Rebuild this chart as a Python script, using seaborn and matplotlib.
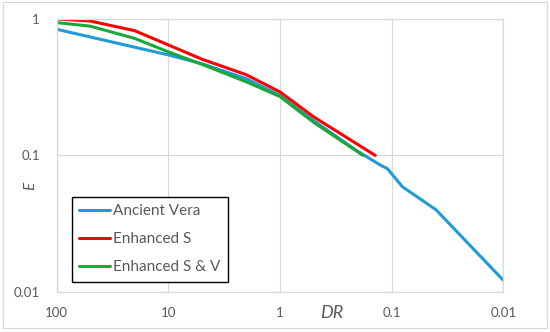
import matplotlib
matplotlib.use('Agg')
import matplotlib.pyplot as plt
import matplotlib.ticker as mticker
from matplotlib.patches import Rectangle
import seaborn as sns
import pandas as pd

# Series values (log-log, DR axis reversed)
vera_dr = [100, 10, 5, 2, 1, 0.5, 0.2, 0.126, 0.109, 0.08, 0.04, 0.01]
vera_e = [0.84, 0.545, 0.47, 0.365, 0.275, 0.18, 0.107, 0.085, 0.08, 0.059, 0.04, 0.0122]

enh_s_dr = [100, 50, 20, 10, 5, 2, 1, 0.5, 0.14]
enh_s_e = [1.0, 0.965, 0.82, 0.645, 0.507, 0.39, 0.292, 0.192, 0.1]

enh_sv_dr = [100, 50, 20, 10, 5, 2, 1, 0.5, 0.18]
enh_sv_e = [0.94, 0.885, 0.72, 0.574, 0.465, 0.346, 0.27, 0.175, 0.1]

series_names = ['Ancient Vera', 'Enhanced S', 'Enhanced S & V']
series_colors = ['#1F9BD7', '#FF0000', '#1AA83A']

x_ticks = [100, 10, 1, 0.1, 0.01]
x_ticklabels = ['100', '10', '1', '0.1', '0.01']
y_ticks = [1, 0.1, 0.01]
y_ticklabels = ['1', '0.1', '0.01']

df = pd.concat([
    pd.DataFrame({'DR': vera_dr, 'E': vera_e, 'series': series_names[0]}),
    pd.DataFrame({'DR': enh_s_dr, 'E': enh_s_e, 'series': series_names[1]}),
    pd.DataFrame({'DR': enh_sv_dr, 'E': enh_sv_e, 'series': series_names[2]}),
])

sns.set_style('white')
plt.rcParams['font.family'] = ['Lato', 'DejaVu Sans']

fig = plt.figure(figsize=(5.5, 3.32), dpi=100)
ax = fig.add_axes([0.103, 0.1205, 0.812, 0.8225])

grid_c = '#D9D9D9'
text_c = '#595959'

sns.lineplot(data=df, x='DR', y='E', hue='series', hue_order=series_names,
             palette=series_colors, linewidth=2.2, sort=False, ax=ax,
             legend=False)

ax.set_xscale('log')
ax.set_yscale('log')
ax.set_xlim(100, 0.01)
ax.set_ylim(0.01, 1)

ax.xaxis.set_major_locator(mticker.FixedLocator(x_ticks))
ax.yaxis.set_major_locator(mticker.FixedLocator(y_ticks))
ax.xaxis.set_minor_locator(mticker.NullLocator())
ax.yaxis.set_minor_locator(mticker.NullLocator())
ax.set_xticklabels(x_ticklabels)
ax.set_yticklabels(y_ticklabels)
ax.tick_params(axis='both', length=0, labelsize=9.5, colors=text_c)
ax.tick_params(axis='x', pad=11)
ax.tick_params(axis='y', pad=12)

ax.grid(True, color=grid_c, linewidth=0.9)
ax.set_axisbelow(True)
for s in ax.spines.values():
    s.set_color(grid_c)
    s.set_linewidth(0.9)

ax.set_xlabel('')
ax.set_ylabel('')
fig.text(30 / 550, 1 - 186 / 332, 'E', rotation=90, style='italic',
         fontsize=11, color=text_c, ha='center', va='center')
fig.text(332 / 550, 1 - 313 / 332, 'DR', style='italic',
         fontsize=13, color=text_c, ha='center', va='center')

handles = [plt.Line2D([], [], color=c, linewidth=2.2) for c in series_colors]
leg = ax.legend(handles, series_names, loc='lower left',
                bbox_to_anchor=(15 / 446.4, 10 / 273), fontsize=11,
                frameon=True, fancybox=False, framealpha=1,
                edgecolor='black', handlelength=2.0, handletextpad=0.2,
                labelspacing=0.92, borderpad=0.5, borderaxespad=0)
leg.get_frame().set_linewidth(1.0)
for t in leg.get_texts():
    t.set_color(text_c)

# light chart-area border
fig.patches.append(Rectangle((3 / 550, 4 / 332), 544 / 550, 326 / 332,
                             transform=fig.transFigure, fill=False,
                             edgecolor=grid_c, linewidth=0.9))

fig.savefig('out.png', dpi=100, facecolor='white')
plt.close(fig)
